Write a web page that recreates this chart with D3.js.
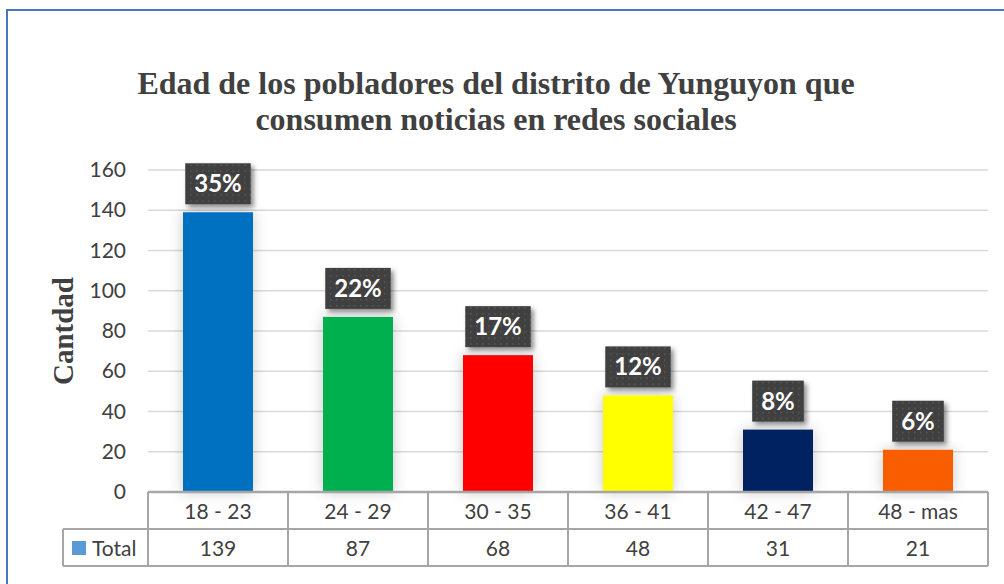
<!DOCTYPE html>
<html>
<head>
<meta charset="utf-8">
<script src="https://cdn.jsdelivr.net/npm/d3@7"></script>
<style>
  body { margin: 0; background: #fff; }
  svg { display: block; }
</style>
</head>
<body>
<div id="plot"></div>
<script>
// Data
var categories = ["18 - 23", "24 - 29", "30 - 35", "36 - 41", "42 - 47", "48 - mas"];
var totals = [139, 87, 68, 48, 31, 21];
var percents = ["35%", "22%", "17%", "12%", "8%", "6%"];
var barColors = ["#0070C0", "#00B050", "#FF0000", "#FFFF00", "#002060", "#F85D06"];
var yTicks = [0, 20, 40, 60, 80, 100, 120, 140, 160];

var W = 1004, H = 584;
var margin = {top: 170, right: 16, bottom: 92, left: 148},
    width = W - margin.left - margin.right,
    height = H - margin.top - margin.bottom;

var svg = d3.select("#plot")
    .append("svg")
        .attr("width", W)
        .attr("height", H);

var defs = svg.append("defs");

// dotted texture for the label boxes
var pat = defs.append("pattern")
    .attr("id", "dots")
    .attr("width", 6).attr("height", 6)
    .attr("patternUnits", "userSpaceOnUse");
pat.append("rect").attr("width", 6).attr("height", 6).attr("fill", "#404040");
pat.append("rect").attr("x", 2).attr("y", 2).attr("width", 1.5).attr("height", 1.5).attr("fill", "#5a5a5a");

var sh = defs.append("filter").attr("id", "boxShadow")
    .attr("x", "-30%").attr("y", "-30%").attr("width", "160%").attr("height", "160%");
sh.append("feDropShadow").attr("dx", 3).attr("dy", 3).attr("stdDeviation", 2.5)
    .attr("flood-color", "#000").attr("flood-opacity", 0.45);

var bs = defs.append("filter").attr("id", "barShadow")
    .attr("x", "-50%").attr("y", "-20%").attr("width", "200%").attr("height", "140%");
bs.append("feDropShadow").attr("dx", 0).attr("dy", 0).attr("stdDeviation", 7)
    .attr("flood-color", "#000").attr("flood-opacity", 0.22);

// outer border (runs off the page at right and bottom)
svg.append("rect")
    .attr("x", 7).attr("y", 10)
    .attr("width", W + 20).attr("height", H + 20)
    .attr("fill", "none")
    .attr("stroke", "#4677BF")
    .attr("stroke-width", 2);

// Title
var title = svg.append("text")
    .attr("text-anchor", "middle")
    .style("font-family", "'Liberation Serif', 'Times New Roman', serif")
    .style("font-weight", "bold")
    .style("font-size", "32px")
    .attr("fill", "#404040");
title.append("tspan").attr("x", 496).attr("y", 94)
    .text("Edad de los pobladores del distrito de Yunguyon que");
title.append("tspan").attr("x", 496).attr("y", 130)
    .text("consumen noticias en redes sociales");

var g = svg.append("g")
    .attr("transform", "translate(" + margin.left + "," + margin.top + ")");

var x = d3.scaleBand()
    .domain(categories)
    .range([0, width])
    .paddingInner(0.5)
    .paddingOuter(0.25);

var y = d3.scaleLinear()
    .domain([0, 160])
    .range([height, 0]);

// gridlines
g.append("g")
    .selectAll("line")
    .data(yTicks.slice(1))
    .enter().append("line")
        .attr("x1", 0).attr("x2", width)
        .attr("y1", function(d) { return y(d); })
        .attr("y2", function(d) { return y(d); })
        .attr("stroke", "#d9d9d9")
        .attr("stroke-width", 1.3);

// y axis labels
var yAxis = d3.axisLeft(y).tickValues(yTicks).tickSize(0).tickPadding(22);
var ya = g.append("g").call(yAxis);
ya.select(".domain").remove();
ya.selectAll("text")
    .style("font-family", "Lato, 'Open Sans', sans-serif")
    .style("font-size", "21px")
    .attr("fill", "#404040");

svg.append("text")
    .attr("transform", "translate(73,331) rotate(-90)")
    .attr("text-anchor", "middle")
    .style("font-family", "'Liberation Serif', 'Times New Roman', serif")
    .style("font-weight", "bold")
    .style("font-size", "29px")
    .attr("fill", "#404040")
    .text("Cantdad");

// bars
g.append("g")
    .selectAll("rect")
    .data(totals)
    .enter().append("rect")
        .attr("x", function(d, i) { return x(categories[i]); })
        .attr("y", function(d) { return y(d); })
        .attr("width", x.bandwidth())
        .attr("height", function(d) { return y(0) - y(d); })
        .attr("fill", function(d, i) { return barColors[i]; })
        .attr("filter", "url(#barShadow)");

// data labels
var lbl = g.append("g")
    .selectAll("g")
    .data(totals)
    .enter().append("g")
        .attr("transform", function(d, i) {
            return "translate(" + (x(categories[i]) + x.bandwidth() / 2) + "," + (y(d) - 8) + ")";
        });
lbl.each(function(d, i) {
    var gg = d3.select(this);
    var t = gg.append("text")
        .attr("text-anchor", "middle")
        .attr("y", -12)
        .style("font-family", "Lato, 'Open Sans', sans-serif")
        .style("font-weight", "bold")
        .style("font-size", "24px")
        .attr("fill", "#fff")
        .text(percents[i]);
    var tw = t.node().getComputedTextLength();
    gg.insert("rect", "text")
        .attr("x", -tw / 2 - 9)
        .attr("y", -41)
        .attr("width", tw + 18)
        .attr("height", 41)
        .attr("fill", "url(#dots)")
        .attr("filter", "url(#boxShadow)");
});

// data table
var rowH = 37;
var tbl = g.append("g").attr("transform", "translate(0," + height + ")");
var lineColor = "#a6a6a6";

// horizontal lines
tbl.append("line").attr("x1", 0).attr("x2", width).attr("y1", 0).attr("y2", 0)
    .attr("stroke", "#a6a6a6").attr("stroke-width", 2.5);
tbl.append("line").attr("x1", -85).attr("x2", width).attr("y1", rowH).attr("y2", rowH)
    .attr("stroke", lineColor).attr("stroke-width", 2);
tbl.append("line").attr("x1", -85).attr("x2", width).attr("y1", 2 * rowH).attr("y2", 2 * rowH)
    .attr("stroke", lineColor).attr("stroke-width", 2);
tbl.append("line").attr("x1", -85).attr("x2", -85).attr("y1", rowH).attr("y2", 2 * rowH)
    .attr("stroke", lineColor).attr("stroke-width", 2);

var step = x.step();
tbl.selectAll(".vline")
    .data(d3.range(categories.length + 1))
    .enter().append("line")
        .attr("x1", function(k) { return k * step; })
        .attr("x2", function(k) { return k * step; })
        .attr("y1", 0).attr("y2", 2 * rowH)
        .attr("stroke", lineColor).attr("stroke-width", 2);

var txtStyle = function(sel) {
    sel.style("font-family", "Lato, 'Open Sans', sans-serif")
       .style("font-size", "21px")
       .attr("fill", "#404040")
       .attr("text-anchor", "middle");
};

tbl.selectAll(".cat")
    .data(categories)
    .enter().append("text")
        .attr("x", function(d) { return x(d) + x.bandwidth() / 2; })
        .attr("y", 27)
        .text(function(d) { return d; })
        .call(txtStyle);

tbl.selectAll(".val")
    .data(totals)
    .enter().append("text")
        .attr("x", function(d, i) { return x(categories[i]) + x.bandwidth() / 2; })
        .attr("y", rowH + 27)
        .text(function(d) { return d; })
        .call(txtStyle);

tbl.append("rect")
    .attr("x", -76).attr("y", rowH + 12)
    .attr("width", 14).attr("height", 14)
    .attr("fill", "#5B9BD5");
tbl.append("text")
    .attr("x", -56).attr("y", rowH + 27)
    .text("Total")
    .call(txtStyle)
    .attr("text-anchor", "start");
</script>
</body>
</html>
